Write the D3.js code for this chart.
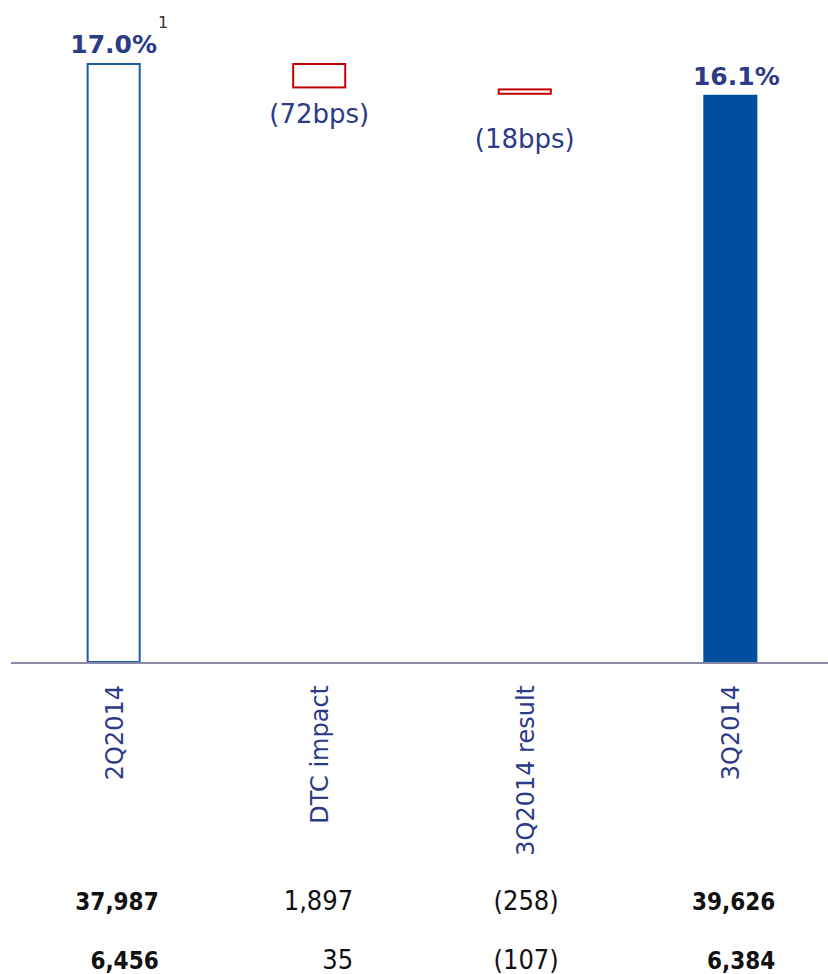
<!DOCTYPE html>
<html>
<head>
<meta charset="utf-8">
<script src="https://cdn.jsdelivr.net/npm/d3@7"></script>
<style>
  html, body { margin: 0; padding: 0; background: #ffffff; }
  svg { display: block; }
</style>
</head>
<body>
<svg id="chart" width="828" height="974"></svg>
<script>
// Waterfall of the ratio from 2Q2014 to 3Q2014 (in %)
const categories = ["2Q2014", "DTC impact", "3Q2014 result", "3Q2014"];
const kinds      = ["total", "delta", "delta", "total"];
const values     = [17.0, -0.72, -0.18, 16.1];
const valueLabels = ["17.0%", "(72bps)", "(18bps)", "16.1%"];
const footnote   = "1";
// Two rows of figures printed under the categories
const row1 = ["37,987", "1,897", "(258)", "39,626"];
const row2 = ["6,456", "35", "(107)", "6,384"];

const NAVY = "#2c3b87";
const BLUE_FILL = "#024f9d";
const BLUE_LINE = "#1e5aa6";
const RED = "#c00000";

const svg = d3.select("#chart");

const x = d3.scaleBand()
  .domain(categories)
  .range([11, 833])
  .paddingInner(0.737)
  .paddingOuter(0.368);

const y = d3.scaleLinear().domain([0, 17]).range([663, 63]);

// Build waterfall segments: totals run from zero, deltas float off the running level
let level = 0;
const bars = categories.map((c, i) => {
  let lo, hi;
  if (kinds[i] === "total") {
    lo = 0; hi = values[i]; level = values[i];
  } else {
    const next = level + values[i];
    lo = Math.min(level, next); hi = Math.max(level, next); level = next;
  }
  return { cat: c, kind: kinds[i], lo, hi, label: valueLabels[i], i };
});

const cx = d => x(d.cat) + x.bandwidth() / 2;

// Bars
svg.append("g").selectAll("rect")
  .data(bars)
  .join("rect")
  .attr("x", d => x(d.cat) + 1)
  .attr("width", x.bandwidth() - 2)
  .attr("y", d => y(d.hi) + 1)
  .attr("height", d => Math.max(0, y(d.lo) - y(d.hi) - 2))
  .attr("fill", d => d.i === bars.length - 1 ? BLUE_FILL : "#ffffff")
  .attr("stroke", d => d.i === bars.length - 1 ? BLUE_FILL : (d.kind === "delta" ? RED : BLUE_LINE))
  .attr("stroke-width", 2);

// Baseline
svg.append("line")
  .attr("x1", 11).attr("x2", 828)
  .attr("y1", y(0)).attr("y2", y(0))
  .attr("stroke", "#8b8aa6")
  .attr("stroke-width", 2);

// Value labels: bold above totals, plain below deltas
const labels = svg.append("g").selectAll("text")
  .data(bars)
  .join("text")
  .attr("x", d => cx(d) + (d.kind === "total" && d.i > 0 ? 6 : 0))
  .attr("y", d => d.kind === "total" ? y(d.hi) - 10 : y(d.hi) + 60)
  .attr("text-anchor", "middle")
  .attr("font-family", "DejaVu Sans, sans-serif")
  .attr("font-size", d => d.kind === "total" ? 25 : 26)
  .attr("font-weight", d => d.kind === "total" ? "bold" : "normal")
  .attr("fill", NAVY)
  .text(d => d.label);

// Footnote marker after the opening total
const firstLabel = labels.filter(d => d.i === 0).node().getBBox();
svg.append("text")
  .attr("x", firstLabel.x + firstLabel.width + 1)
  .attr("y", 28)
  .attr("font-family", "DejaVu Sans, sans-serif")
  .attr("font-size", 16)
  .attr("fill", "#333333")
  .text(footnote);

// Rotated category labels
svg.append("g").selectAll("text")
  .data(categories)
  .join("text")
  .attr("transform", c => `translate(${x(c) + x.bandwidth() / 2 + 9},685) rotate(-90)`)
  .attr("text-anchor", "end")
  .attr("font-family", "DejaVu Sans, sans-serif")
  .attr("font-size", 24)
  .attr("fill", NAVY)
  .text(c => c);

// Figure rows under the chart
function drawRow(row, baseline) {
  svg.append("g").selectAll("text")
    .data(row)
    .join("text")
    .attr("x", (v, i) => x(categories[i]) + x.bandwidth() / 2 + (kinds[i] === "total" ? 45 : 34))
    .attr("y", baseline)
    .attr("text-anchor", "end")
    .attr("font-family", "Liberation Sans Narrow, DejaVu Sans Condensed, sans-serif")
    .attr("font-size", (v, i) => kinds[i] === "total" ? 24 : 27)
    .attr("font-weight", (v, i) => kinds[i] === "total" ? "bold" : "normal")
    .attr("fill", "#111111")
    .text(v => v);
}
drawRow(row1, 910);
drawRow(row2, 969);
</script>
</body>
</html>
